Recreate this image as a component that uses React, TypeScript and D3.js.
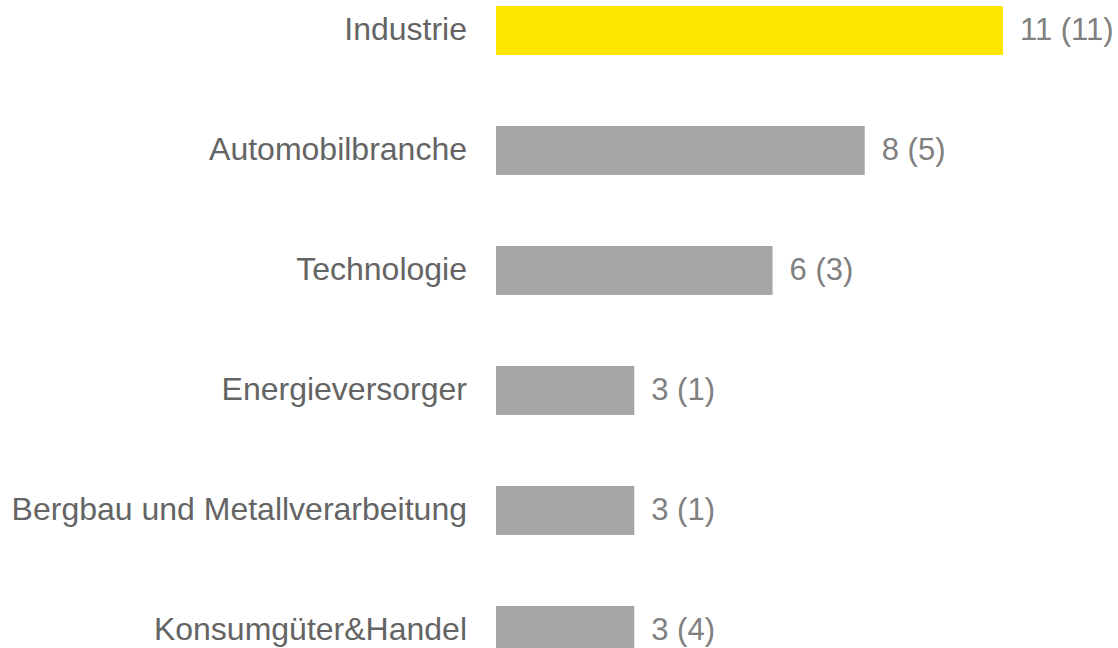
import React from "react";
import * as d3 from "d3";

const categories = [
  "Industrie",
  "Automobilbranche",
  "Technologie",
  "Energieversorger",
  "Bergbau und Metallverarbeitung",
  "Konsumgüter&Handel",
];
const values = [11, 8, 6, 3, 3, 3];
const previous = [11, 5, 3, 1, 1, 4];
const highlight = ["Industrie"];

const W = 1118;
const H = 648;

export default function App() {
  const x = d3.scaleLinear().domain([0, 11]).range([496, 1003]);
  const y = d3
    .scaleBand<string>()
    .domain(categories)
    .range([6, 655])
    .paddingInner(0.5917)
    .paddingOuter(0);
  const font = "'Liberation Sans', Arial, sans-serif";
  return (
    <svg
      width={W}
      height={H}
      style={{ position: "absolute", left: 0, top: 0, background: "#fff" }}
    >
      {categories.map((c, i) => {
        const yy = y(c)!;
        const cy = yy + y.bandwidth() / 2;
        return (
          <g key={c}>
            <rect
              x={x(0)}
              y={yy}
              width={x(values[i]) - x(0)}
              height={y.bandwidth()}
              fill={highlight.includes(c) ? "#ffe600" : "#a6a6a6"}
            />
            <text
              x={x(0) - 29}
              y={cy}
              dy="0.3em"
              textAnchor="end"
              fontFamily={font}
              fontSize={32}
              fill="#646464"
            >
              {c}
            </text>
            <text
              x={x(values[i]) + 17}
              y={cy}
              dy="0.3em"
              textAnchor="start"
              fontFamily={font}
              fontSize={31}
              fill="#808080"
            >
              {`${values[i]} (${previous[i]})`}
            </text>
          </g>
        );
      })}
    </svg>
  );
}
